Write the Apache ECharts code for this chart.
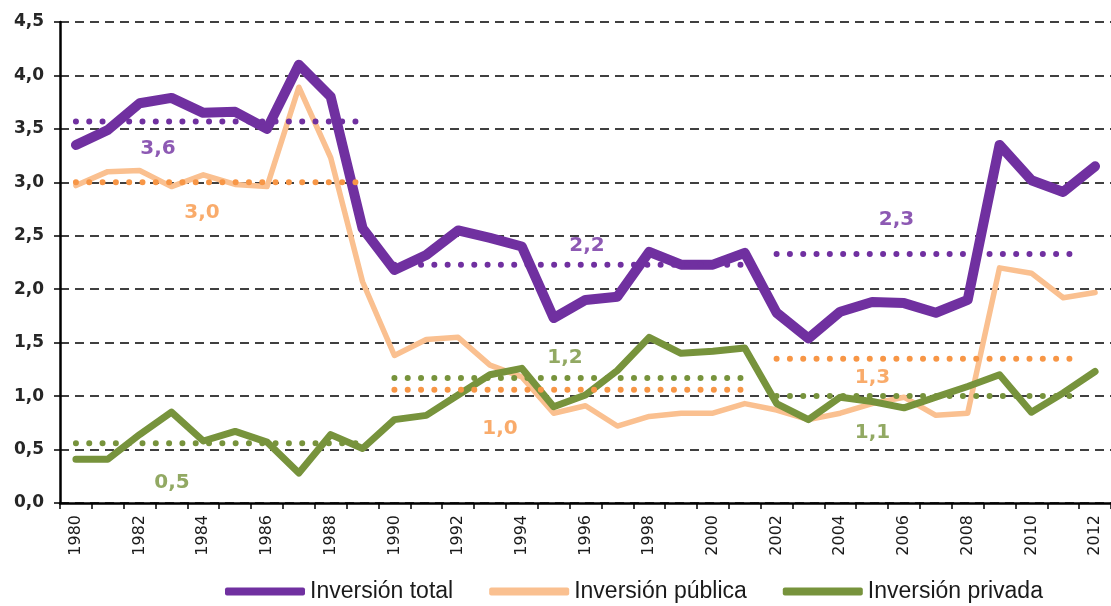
<!DOCTYPE html>
<html><head><meta charset="utf-8">
<script src="https://cdn.jsdelivr.net/npm/echarts@6/dist/echarts.min.js"></script>
<style>html,body{margin:0;padding:0;background:#fff}#c{width:1111px;height:606px}</style>
</head><body><div id="c"></div>
<script>
const years = ['1980','1981','1982','1983','1984','1985','1986','1987','1988','1989','1990','1991','1992','1993','1994','1995','1996','1997','1998','1999','2000','2001','2002','2003','2004','2005','2006','2007','2008','2009','2010','2011','2012'];
const inversionTotal = [3.35,3.49,3.74,3.79,3.65,3.66,3.50,4.10,3.80,2.57,2.18,2.32,2.55,2.48,2.40,1.73,1.90,1.93,2.35,2.23,2.23,2.34,1.78,1.54,1.79,1.88,1.87,1.78,1.90,3.35,3.02,2.91,3.15];
const inversionPublica = [2.97,3.10,3.11,2.96,3.07,2.98,2.96,3.89,3.23,2.07,1.38,1.53,1.55,1.29,1.18,0.84,0.91,0.72,0.81,0.84,0.84,0.93,0.87,0.78,0.84,0.93,0.99,0.82,0.84,2.20,2.15,1.92,1.97];
const inversionPrivada = [0.41,0.41,0.64,0.85,0.58,0.67,0.57,0.28,0.64,0.51,0.78,0.82,1.01,1.20,1.26,0.90,1.01,1.24,1.55,1.40,1.42,1.45,0.93,0.78,0.99,0.95,0.89,0.99,1.09,1.20,0.85,1.03,1.23];
// average periods (years) and averages
const periodStart = [1980, 1990, 2002];
const periodEnd = [1988.8, 2000.9, 2011.6];
const avgTotal = [3.57, 2.23, 2.33];
const avgPublica = [3.00, 1.06, 1.35];
const avgPrivada = [0.56, 1.17, 1.00];
const avgTotalLabels = ['3,6', '2,2', '2,3'];
const avgPublicaLabels = ['3,0', '1,0', '1,3'];
const avgPrivadaLabels = ['0,5', '1,2', '1,1'];
const yTicks = ['0,0','0,5','1,0','1,5','2,0','2,5','3,0','3,5','4,0','4,5'];

const C_TOTAL = '#7030A0', C_PUB = '#FAC090', C_PUB_DOT = '#F79646', C_PRIV = '#77933C';
// label offsets (px) relative to the middle of each average segment
const offTotal = [[-58, 27], [19, -19], [-33, -34]];
const offPub = [[-14, 30], [-68, 39], [-57, 19]];
const offPriv = [[-44, 40], [-3, -20], [-57, 37]];

function avgSeries(avgs, labels, offs, color, name) {
  const out = [];
  for (let i = 0; i < avgs.length; i++) {
    out.push({
      name: name + '_avg' + i, type: 'line', xAxisIndex: 1, yAxisIndex: 0,
      data: [[periodStart[i], avgs[i]], [periodEnd[i], avgs[i]]],
      symbol: 'none', silent: true, z: 5,
      lineStyle: { color: color, width: 6, type: [0.01, 13.3], cap: 'round' }
    });
    out.push({
      name: name + '_lbl' + i, type: 'scatter', xAxisIndex: 1, yAxisIndex: 0,
      data: [[(periodStart[i] + periodEnd[i]) / 2, avgs[i]]],
      symbolSize: 0, silent: true, z: 6,
      label: { show: true, position: 'inside', offset: offs[i], formatter: labels[i],
        color: color, fontFamily: 'DejaVu Sans', fontWeight: 'bold', fontSize: 20 }
    });
  }
  return out;
}

const chart = echarts.init(document.getElementById('c'), null, { renderer: 'canvas' });
chart.setOption({
  animation: false,
  backgroundColor: '#fff',
  grid: { left: 60, right: -7, top: 22, bottom: 103, containLabel: false },
  legend: {
    data: [
      { name: 'Inversión total', icon: 'roundRect' },
      { name: 'Inversión pública', icon: 'roundRect' },
      { name: 'Inversión privada', icon: 'roundRect' }
    ],
    left: 225, top: 580, itemWidth: 80, itemHeight: 8, itemGap: 36, padding: 0,
    textStyle: { fontFamily: 'Liberation Sans', fontSize: 23, color: '#1a1a1a' }
  },
  xAxis: [{
    type: 'category', data: years, boundaryGap: true,
    axisLine: { lineStyle: { color: '#000', width: 2.5 } },
    axisTick: { show: true, length: 6, interval: 0, lineStyle: { color: '#000', width: 1.5 } },
    axisLabel: { interval: 1, rotate: 90, margin: 12, fontFamily: 'DejaVu Sans', fontSize: 16, color: '#1a1a1a' },
    splitLine: { show: false }
  }, {
    type: 'value', min: 1979.5, max: 2012.5, show: false
  }],
  yAxis: [{
    type: 'value', min: 0, max: 4.5, interval: 0.5,
    axisLine: { show: true, lineStyle: { color: '#000', width: 2.5 } },
    axisTick: { show: true, length: 6, lineStyle: { color: '#000', width: 1.5 } },
    axisLabel: { margin: 16, fontFamily: 'DejaVu Sans', fontWeight: 'bold', fontSize: 17, color: '#262626',
      formatter: function (v) { return yTicks[Math.round(v / 0.5)]; } },
    splitLine: { show: true, lineStyle: { color: '#404040', width: 2, type: [9, 6] } }
  }],
  series: [
    { name: 'Inversión total', type: 'line', data: inversionTotal, symbol: 'none', z: 2,
      itemStyle: { color: C_TOTAL }, lineStyle: { color: C_TOTAL, width: 10, cap: 'round', join: 'round' } },
    { name: 'Inversión pública', type: 'line', data: inversionPublica, symbol: 'none', z: 2,
      itemStyle: { color: C_PUB }, lineStyle: { color: C_PUB, width: 5.5, cap: 'round', join: 'round' } },
    { name: 'Inversión privada', type: 'line', data: inversionPrivada, symbol: 'none', z: 2,
      itemStyle: { color: C_PRIV }, lineStyle: { color: C_PRIV, width: 7, cap: 'round', join: 'round' } }
  ].concat(
    avgSeries(avgTotal, avgTotalLabels, offTotal, C_TOTAL, 'total'),
    avgSeries(avgPublica, avgPublicaLabels, offPub, C_PUB_DOT, 'pub'),
    avgSeries(avgPrivada, avgPrivadaLabels, offPriv, C_PRIV, 'priv')
  )
});
</script>
</body></html>
